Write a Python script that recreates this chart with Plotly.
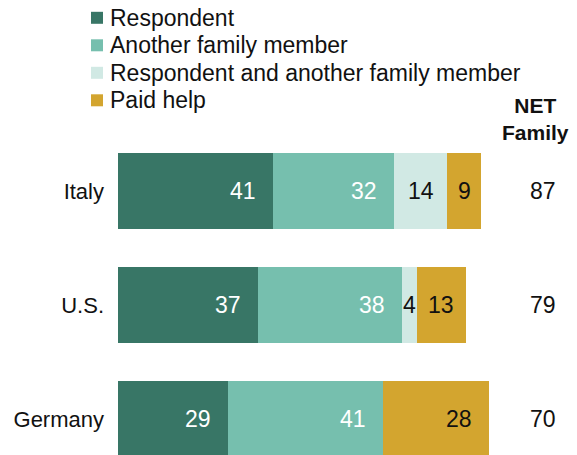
import plotly.graph_objects as go

# ---- data ----
countries = ["Italy", "U.S.", "Germany"]
respondent = [41, 37, 29]
another_member = [32, 38, 41]
resp_and_another = [14, 4, 0]
paid_help = [9, 13, 28]
net_family = [87, 79, 70]

series_names = ["Respondent", "Another family member",
                "Respondent and another family member", "Paid help"]
series_values = [respondent, another_member, resp_and_another, paid_help]
series_colors = ["#387666", "#76BFAE", "#D1E9E4", "#D3A52F"]
label_colors = ["white", "white", "#111111", "#111111"]

FONT = "Liberation Sans, Arial, sans-serif"
W, H = 577, 455
PL, PR, PT, PB = 118, 572, 134, 455  # plot area in page pixels
ML, MR, MT, MB = PL, W - PR, PT, H - PB
XMAX = 120
plot_w = PR - PL
plot_h = PB - PT
ppu = plot_w / XMAX


def px_x(x):
    return (x - PL) / plot_w


def px_y(y):
    return (PB - y) / plot_h


fig = go.Figure()
for name, vals, col in zip(series_names, series_values, series_colors):
    fig.add_trace(go.Bar(
        y=countries, x=vals, name=name, orientation="h",
        marker=dict(color=col, line=dict(width=0)),
        width=0.667, showlegend=False, hoverinfo="skip",
    ))

annotations = []
# value labels inside segments
for ci, c in enumerate(countries):
    start = 0
    for si, vals in enumerate(series_values):
        v = vals[ci]
        end = start + v
        if v > 0:
            mid = (start + end) / 2
            xpos = max(mid, end - 30 / ppu)
            annotations.append(dict(
                x=xpos, y=c, xref="x", yref="y", text=str(v), showarrow=False,
                xanchor="center", yanchor="middle",
                font=dict(family=FONT, size=23, color=label_colors[si])))
        start = end
    # NET family column
    annotations.append(dict(
        x=px_x(542.5), y=c, xref="paper", yref="y", text=str(net_family[ci]),
        showarrow=False, xanchor="center", yanchor="middle",
        font=dict(family=FONT, size=23, color="#111111")))

# header
annotations.append(dict(
    x=px_x(535), y=px_y(119), xref="paper", yref="paper",
    text="<b>NET</b><br><b>Family</b>", showarrow=False, align="center",
    xanchor="center", yanchor="middle",
    font=dict(family=FONT, size=21, color="#111111")))

# manual legend
shapes = []
rows = [17.8, 45.3, 72.8, 100.3]
for name, col, ry in zip(series_names, series_colors, rows):
    shapes.append(dict(type="rect", xref="paper", yref="paper",
                       x0=px_x(91), x1=px_x(103), y0=px_y(ry + 6), y1=px_y(ry - 6),
                       fillcolor=col, line=dict(width=0)))
    annotations.append(dict(
        x=px_x(108), y=px_y(ry), xref="paper", yref="paper", text=name,
        showarrow=False, xanchor="left", yanchor="middle",
        font=dict(family=FONT, size=23, color="#111111")))

fig.update_layout(
    width=W, height=H, barmode="stack",
    margin=dict(l=ML, r=MR, t=MT, b=MB, pad=0),
    paper_bgcolor="white", plot_bgcolor="white",
    xaxis=dict(range=[0, XMAX], visible=False, fixedrange=True),
    yaxis=dict(range=[-0.5 + plot_h / 114, -0.5], type="category",
               categoryorder="array", categoryarray=countries,
               showgrid=False, zeroline=False, showline=False,
               ticks="", ticklabelstandoff=13,
               tickfont=dict(family=FONT, size=22, color="#111111")),
    annotations=annotations, shapes=shapes,
)

fig.write_html("out.html", config={"displayModeBar": False},
               post_script="document.body.style.margin='0';document.body.style.overflow='hidden';")
